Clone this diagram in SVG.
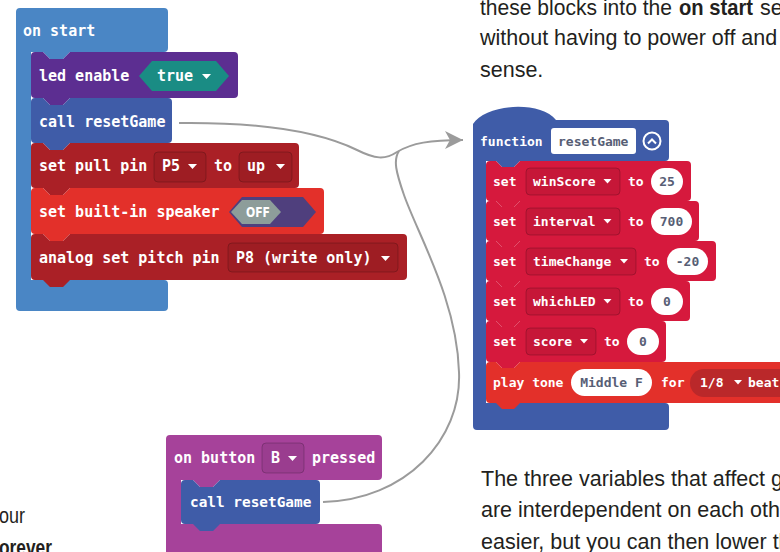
<svg xmlns="http://www.w3.org/2000/svg" width="780" height="552" viewBox="0 0 780 552">
<style>
.t{font-family:"DejaVu Sans Mono","Liberation Mono",monospace;font-weight:bold;font-size:15px;fill:#fff}
.s{font-size:13px}
.dk{fill:#575E75}
.body{font-family:"Liberation Sans",Arial,sans-serif;font-size:21.5px;fill:#231F20}
.bold{font-weight:bold}
.dd{fill:rgba(0,0,0,0.07);stroke:rgba(0,0,0,0.2);stroke-width:1}
.pill{fill:#fff}
.tri{fill:#fff}
.conn{fill:none;stroke:#9B9B9B;stroke-width:2}
.start{fill:#4A86C5}
.purple{fill:#5C2E91}
.fn{fill:#3F5CA8}
.pin{fill:#AA2026}
.music{fill:#E3302A}
.var{fill:#D6193D}
.input{fill:#A6429A}
</style>
<defs>
<marker id="arr" markerUnits="userSpaceOnUse" markerWidth="20" markerHeight="20" refX="18" refY="9" orient="auto">
<path d="M0,0 L18,9 L0,18 L5,9 Z" fill="#9B9B9B"/>
</marker>
</defs>

<!-- body text -->
<text class="body" y="15"><tspan x="480" textLength="192" lengthAdjust="spacingAndGlyphs">these blocks into the</tspan><tspan x="679" class="bold" textLength="74" lengthAdjust="spacingAndGlyphs">on start</tspan><tspan x="760">se</tspan></text>
<text class="body" x="480" y="45">without having to power off and</text>
<text class="body" x="480" y="77">sense.</text>
<text class="body" x="481" y="486">The three variables that affect ga</text>
<text class="body" x="481" y="517">are interdependent on each oth</text>
<text class="body" x="481" y="549">easier, but you can then lower th</text>
<text class="body" x="-1" y="523" textLength="26" lengthAdjust="spacingAndGlyphs">our</text>
<text class="body bold" x="-1" y="555" textLength="53" lengthAdjust="spacingAndGlyphs">orever</text>

<!-- on start -->
<g id="on-start">
<path class="start" d="M16,12 Q16,8 20,8 H164 Q168,8 168,12 V48 Q168,52 164,52 H70 l-7,7 h-13 l-7,-7 H31 V280 H164 Q168,280 168,284 V307 Q168,311 164,311 H20 Q16,311 16,307 Z"/>
<text class="t" x="23" y="36">on start</text>
</g>
<g id="led-enable">
<path class="purple" d="M31,56 Q31,52 35,52 H43 l7,7 h13 l7,-7 H234 Q238,52 238,56 V94 Q238,98 234,98 H70 l-7,7 h-13 l-7,-7 H35 Q31,98 31,94 Z"/>
<text class="t" x="39" y="81">led enable</text>
<polygon points="139,76 152,61 216,61 229,76 216,91 152,91" fill="#1A8C84"/>
<text class="t" x="157" y="81">true</text>
<polygon class="tri" points="202,74 211,74 206.5,79"/>
</g>
<g id="call-reset-1">
<path class="fn" d="M31,102 Q31,98 35,98 H43 l7,7 h13 l7,-7 H168 Q172,98 172,102 V139 Q172,143 168,143 H70 l-7,7 h-13 l-7,-7 H35 Q31,143 31,139 Z"/>
<text class="t" x="39" y="127">call resetGame</text>
</g>
<g id="set-pull-pin">
<path class="pin" d="M31,147 Q31,143 35,143 H43 l7,7 h13 l7,-7 H295 Q299,143 299,147 V184 Q299,188 295,188 H70 l-7,7 h-13 l-7,-7 H35 Q31,188 31,184 Z"/>
<text class="t" x="39" y="171">set pull pin</text>
<rect class="dd" x="154" y="152" width="52" height="30" rx="4"/>
<text class="t" x="162" y="171">P5</text>
<polygon class="tri" points="188,164 197,164 192.5,169"/>
<text class="t" x="214" y="171">to</text>
<rect class="dd" x="239" y="152" width="53" height="30" rx="4"/>
<text class="t" x="247" y="171">up</text>
<polygon class="tri" points="276,164 285,164 280.5,169"/>
</g>
<g id="set-speaker">
<path class="music" d="M31,192 Q31,188 35,188 H43 l7,7 h13 l7,-7 H320 Q324,188 324,192 V230 Q324,234 320,234 H70 l-7,7 h-13 l-7,-7 H35 Q31,234 31,230 Z"/>
<text class="t" x="39" y="217">set built-in speaker</text>
<polygon points="229,212 242,197 303,197 316,212 303,227 242,227" fill="#4F3F7D"/>
<polygon points="231,212 242,200 270,200 281,212 270,224 242,224" fill="#8D9D9A"/>
<text x="246" y="217" textLength="24" lengthAdjust="spacingAndGlyphs" style="font-family:'DejaVu Sans',sans-serif;font-weight:bold;font-size:14px;fill:#fff">OFF</text>
</g>
<g id="analog-pitch">
<path class="pin" d="M31,238 Q31,234 35,234 H43 l7,7 h13 l7,-7 H403 Q407,234 407,238 V276 Q407,280 403,280 H70 l-7,7 h-13 l-7,-7 H35 Q31,280 31,276 Z"/>
<text class="t" x="39" y="263">analog set pitch pin</text>
<rect class="dd" x="228" y="243" width="170" height="29" rx="4"/>
<text class="t" x="236" y="263">P8 (write only)</text>
<polygon class="tri" points="381,256 390,256 385.5,261"/>
</g>

<!-- function resetGame -->
<g id="function-resetGame">
<path class="fn" d="M473,124 C485,104 540,100 556,120 H665 Q669,120 669,124 V157 Q669,161 665,161 H520 l-6,6 h-12 l-6,-6 H486 V403 H665 Q669,403 669,407 V426 Q669,430 665,430 H477 Q473,430 473,426 Z"/>
<text class="t s" x="480" y="146">function</text>
<rect x="551" y="128" width="85" height="26" rx="3" fill="#fff"/>
<text class="t s dk" x="558" y="146">resetGame</text>
<circle cx="652" cy="141" r="8.5" fill="none" stroke="#fff" stroke-width="2"/>
<polyline points="648,143.5 652,139.5 656,143.5" fill="none" stroke="#fff" stroke-width="2"/>
</g>
<g id="set-winScore">
<path class="var" d="M486,165 Q486,161 490,161 H496 l6,6 h12 l6,-6 H687 Q691,161 691,165 V197 Q691,201 687,201 H520 l-6,6 h-12 l-6,-6 H490 Q486,201 486,197 Z"/>
<text class="t s" x="493" y="186">set</text>
<rect class="dd" x="526" y="168" width="94" height="27" rx="4"/>
<text class="t s" x="533" y="186">winScore</text>
<polygon class="tri" points="603.5,179 611.5,179 607.5,183.5"/>
<text class="t s" x="628" y="186">to</text>
<rect class="pill" x="651" y="168" width="32" height="27" rx="13.5"/>
<text class="t s dk" x="667" y="186" text-anchor="middle">25</text>
</g>
<g id="set-interval">
<path class="var" d="M486,205 Q486,201 490,201 H496 l6,6 h12 l6,-6 H695 Q699,201 699,205 V237 Q699,241 695,241 H520 l-6,6 h-12 l-6,-6 H490 Q486,241 486,237 Z"/>
<text class="t s" x="493" y="226">set</text>
<rect class="dd" x="526" y="208" width="94" height="27" rx="4"/>
<text class="t s" x="533" y="226">interval</text>
<polygon class="tri" points="603.5,219 611.5,219 607.5,223.5"/>
<text class="t s" x="628" y="226">to</text>
<rect class="pill" x="651" y="208" width="41" height="27" rx="13.5"/>
<text class="t s dk" x="671.5" y="226" text-anchor="middle">700</text>
</g>
<g id="set-timeChange">
<path class="var" d="M486,245 Q486,241 490,241 H496 l6,6 h12 l6,-6 H712 Q716,241 716,245 V277 Q716,281 712,281 H520 l-6,6 h-12 l-6,-6 H490 Q486,281 486,277 Z"/>
<text class="t s" x="493" y="266">set</text>
<rect class="dd" x="526" y="248" width="110" height="27" rx="4"/>
<text class="t s" x="533" y="266">timeChange</text>
<polygon class="tri" points="620,259 628,259 624,263.5"/>
<text class="t s" x="644" y="266">to</text>
<rect class="pill" x="667" y="248" width="41" height="27" rx="13.5"/>
<text class="t s dk" x="687.5" y="266" text-anchor="middle">-20</text>
</g>
<g id="set-whichLED">
<path class="var" d="M486,285 Q486,281 490,281 H496 l6,6 h12 l6,-6 H686 Q690,281 690,285 V317 Q690,321 686,321 H520 l-6,6 h-12 l-6,-6 H490 Q486,321 486,317 Z"/>
<text class="t s" x="493" y="306">set</text>
<rect class="dd" x="526" y="288" width="94" height="27" rx="4"/>
<text class="t s" x="533" y="306">whichLED</text>
<polygon class="tri" points="603.5,299 611.5,299 607.5,303.5"/>
<text class="t s" x="628" y="306">to</text>
<rect class="pill" x="651" y="288" width="32" height="27" rx="13.5"/>
<text class="t s dk" x="667" y="306" text-anchor="middle">0</text>
</g>
<g id="set-score">
<path class="var" d="M486,325 Q486,321 490,321 H496 l6,6 h12 l6,-6 H662 Q666,321 666,325 V358 Q666,362 662,362 H520 l-6,6 h-12 l-6,-6 H490 Q486,362 486,358 Z"/>
<text class="t s" x="493" y="346">set</text>
<rect class="dd" x="526" y="328" width="70" height="27" rx="4"/>
<text class="t s" x="533" y="346">score</text>
<polygon class="tri" points="580,339 588,339 584,343.5"/>
<text class="t s" x="604" y="346">to</text>
<rect class="pill" x="627" y="328" width="32" height="27" rx="13.5"/>
<text class="t s dk" x="643" y="346" text-anchor="middle">0</text>
</g>
<g id="play-tone">
<path class="music" d="M486,366 Q486,362 490,362 H496 l6,6 h12 l6,-6 H800 V403 H520 l-6,6 h-12 l-6,-6 H490 Q486,403 486,399 Z"/>
<text class="t s" x="493" y="387">play tone</text>
<rect class="pill" x="571" y="369" width="81" height="27" rx="13.5"/>
<text class="t s dk" x="611.5" y="387" text-anchor="middle">Middle F</text>
<text class="t s" x="661" y="387">for</text>
<rect x="690" y="369" width="120" height="28" rx="14" fill="#BA282A"/>
<text class="t s" x="700" y="387">1/8</text>
<polygon class="tri" points="734,380 742,380 738,384.5"/>
<text class="t s" x="748" y="387">beat</text>
</g>

<!-- on button B pressed -->
<g id="on-button-b">
<path class="input" d="M166,439 Q166,435 170,435 H378 Q382,435 382,439 V476 Q382,480 378,480 H220 l-7,7 h-13 l-7,-7 H181 V524 H378 Q382,524 382,528 V570 H166 Z"/>
<text class="t" x="174" y="463">on button</text>
<rect class="dd" x="262" y="443" width="42" height="30" rx="4"/>
<text class="t" x="271" y="463">B</text>
<polygon class="tri" points="288,456 297,456 292.5,461"/>
<text class="t" x="312" y="463">pressed</text>
</g>
<g id="call-reset-2">
<path class="fn" d="M181,484 Q181,480 185,480 H193 l7,7 h13 l7,-7 H316 Q320,480 320,484 V520 Q320,524 316,524 H220 l-7,7 h-13 l-7,-7 H185 Q181,524 181,520 Z"/>
<text class="t" x="190" y="507" style="font-size:14.4px">call resetGame</text>
</g>

<!-- connectors -->
<g id="connectors">
<path class="conn" d="M179,123 C265,122 320,132 357,150 C375,159 385,160 397,152 C412,143 430,140 463,140" marker-end="url(#arr)"/>
<path class="conn" d="M323,502 C405,500 462,440 459,372 C457,300 418,235 404,195 C396,172 393,160 399,151"/>
</g>
</svg>
